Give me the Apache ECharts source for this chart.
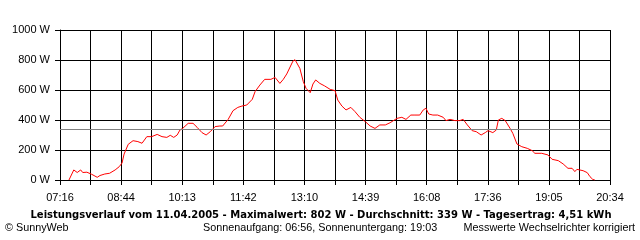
<!DOCTYPE html>
<html>
<head>
<meta charset="utf-8">
<script src="https://cdn.jsdelivr.net/npm/echarts@6/dist/echarts.min.js"></script>
<style>html,body{margin:0;padding:0;background:#fff;}#c{width:640px;height:240px;}</style>
</head>
<body>
<div id="c"></div>
<script>
const times = ["07:29","07:36","07:41","07:46","07:49","07:55","08:02","08:10","08:14","08:21","08:28","08:36","08:42","08:46","08:49","08:55","09:02","09:09","09:15","09:22","09:29","09:37","09:44","09:51","09:56","10:01","10:06","10:10","10:14","10:22","10:29","10:35","10:42","10:48","10:54","11:01","11:08","11:12","11:20","11:27","11:34","11:40","11:47","11:55","11:59","12:06","12:13","12:22","12:28","12:35","12:40","12:45","12:54","12:57","13:04","13:09","13:13","13:19","13:23","13:27","13:33","13:40","13:48","13:55","13:59","14:05","14:11","14:18","14:24","14:31","14:39","14:46","14:53","15:00","15:08","15:15","15:25","15:32","15:38","15:45","15:51","15:58","16:03","16:07","16:11","16:17","16:24","16:32","16:36","16:42","16:49","16:56","17:01","17:07","17:14","17:20","17:27","17:33","17:37","17:44","17:49","17:52","17:57","18:02","18:09","18:13","18:19","18:26","18:34","18:41","18:45","18:55","19:04","19:10","19:19","19:26","19:33","19:39","19:43","19:46","19:55","20:01","20:05","20:09","20:12"];
const watts = [0,67,50,67,50,52,38,18,30,40,45,67,89,113,173,238,262,256,245,289,289,304,289,284,298,284,300,333,344,378,378,351,316,300,322,356,360,360,404,462,484,493,500,538,589,633,671,671,684,644,671,707,793,802,744,656,611,582,640,667,644,627,604,596,533,493,467,484,456,418,389,360,344,367,367,382,411,418,404,433,433,433,467,478,440,433,433,418,396,404,396,396,404,367,329,322,300,316,329,316,333,400,411,396,344,311,240,222,211,196,178,178,167,138,129,107,78,78,56,71,62,49,22,4,0];
const tickLabels = ["07:16","08:44","10:13","11:42","13:10","14:39","16:08","17:36","19:05","20:34"];
const average = 339;
const yTicks = [0,200,400,600,800,1000];
const titleText = "Leistungsverlauf vom 11.04.2005 - Maximalwert: 802 W - Durchschnitt: 339 W - Tagesertrag: 4,51 kWh";
const footLeft = "© SunnyWeb";
const footMid = "Sonnenaufgang: 06:56, Sonnenuntergang: 19:03";
const footRight = "Messwerte Wechselrichter korrigiert";

const START = 7*3600 + 16*60;      // 07:16
const END = 20*3600 + 34*60;       // 20:34
const STEP = (END - START) / 18;   // grid step in seconds
function toSec(s){ const p = s.split(':'); return (+p[0])*3600 + (+p[1])*60 - START; }
const data = times.map((t,i)=>[toSec(t), watts[i]]);

const chart = echarts.init(document.getElementById('c'), null, {renderer:'canvas'});
const font = 'Liberation Sans, Arial, sans-serif';
chart.setOption({
  animation:false,
  backgroundColor:'#fff',
  grid:{left:60,right:30,top:30,bottom:60,containLabel:false},
  title:[
    {text:titleText,left:321,textAlign:'center',top:210,textStyle:{fontFamily:'DejaVu Sans',fontWeight:'bold',fontSize:10,color:'#000'},padding:0},
    {text:footLeft,left:5,top:223,textStyle:{fontFamily:font,fontWeight:'normal',fontSize:10.8,color:'#000'},padding:0},
    {text:footMid,left:203,top:223,textStyle:{fontFamily:font,fontWeight:'normal',fontSize:10.8,color:'#000'},padding:0},
    {text:footRight,right:5,top:223,textStyle:{fontFamily:font,fontWeight:'normal',fontSize:10.8,color:'#000'},padding:0}
  ],
  xAxis:{
    type:'value',min:0,max:END-START,interval:STEP,
    axisLine:{show:true,lineStyle:{color:'#000',width:1}},
    axisTick:{show:true,length:5,lineStyle:{color:'#000'}},
    splitLine:{show:true,lineStyle:{color:'#000',width:1}},
    axisLabel:{margin:12,fontFamily:font,fontSize:11,color:'#000',showMaxLabel:true,showMinLabel:true,
      formatter:function(v){const i=Math.round(v/STEP); return i%2===0 ? tickLabels[i/2] : '';}}
  },
  yAxis:{
    type:'value',min:yTicks[0],max:yTicks[yTicks.length-1],interval:yTicks[1]-yTicks[0],
    axisLine:{show:true,lineStyle:{color:'#000',width:1}},
    axisTick:{show:true,length:5,lineStyle:{color:'#000'}},
    splitLine:{show:true,lineStyle:{color:'#000',width:1}},
    axisLabel:{margin:10,fontFamily:font,fontSize:11,color:'#000',formatter:function(v){return v+' W';}}
  },
  series:[{
    type:'line',data:data,showSymbol:false,symbol:'none',
    lineStyle:{color:'#ff0000',width:1},
    markLine:{silent:true,symbol:['none','none'],label:{show:false},
      lineStyle:{color:'#808080',type:'solid',width:1},
      data:[{yAxis:average}]}
  }]
});
</script>
</body>
</html>
